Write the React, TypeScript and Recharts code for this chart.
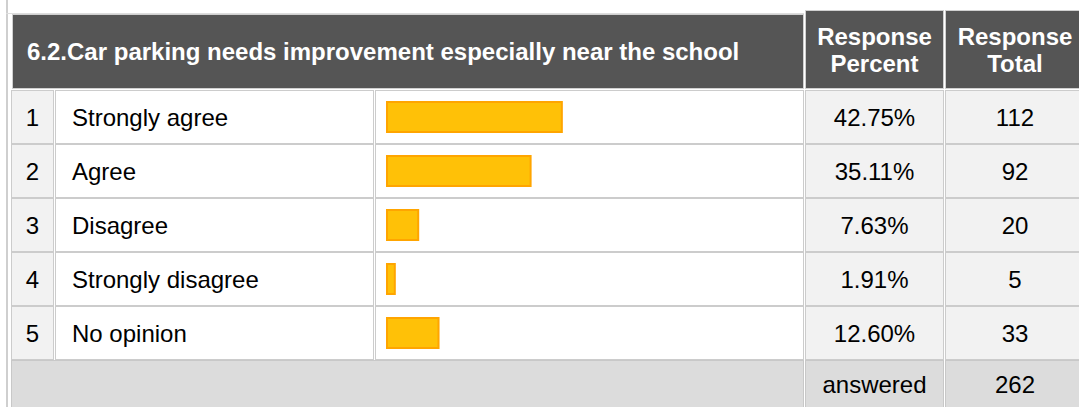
import React from "react";
import { BarChart, Bar, XAxis, YAxis } from "recharts";

const title = "6.2.Car parking needs improvement especially near the school";
const headerPercent = ["Response", "Percent"];
const headerTotal = ["Response", "Total"];
const rowNumbers = ["1", "2", "3", "4", "5"];
const categories = ["Strongly agree", "Agree", "Disagree", "Strongly disagree", "No opinion"];
const percents = [42.75, 35.11, 7.63, 1.91, 12.6];
const totals = [112, 92, 20, 5, 33];
const answeredLabel = "answered";
const answeredTotal = 262;

const data = categories.map((c, i) => ({ name: c, value: percents[i] }));

const FONT = "'Liberation Sans', Arial, sans-serif";
const BORDER = "1px solid #cccccc";
const ROW_TOP = 90;
const ROW_H = 54;
const FS = 24;

const cols = {
  num: { left: 11, width: 43 },
  label: { left: 55, width: 319 },
  bar: { left: 375, width: 429 },
  pct: { left: 805, width: 139 },
  total: { left: 945, width: 140 },
};

function Cell(props: {
  left: number;
  top: number;
  width: number;
  height: number;
  bg: string;
  border?: string;
  align?: "left" | "center";
  padLeft?: number;
  children?: React.ReactNode;
  color?: string;
  bold?: boolean;
  size?: number;
}) {
  const { left, top, width, height, bg, border, align, padLeft, children, color, bold, size } = props;
  return (
    <div
      style={{
        position: "absolute",
        left,
        top,
        width,
        height,
        boxSizing: "border-box",
        background: bg,
        border: border ?? BORDER,
        display: "flex",
        alignItems: "center",
        justifyContent: align === "left" ? "flex-start" : "center",
        paddingLeft: padLeft ?? 0,
        color: color ?? "#000",
        fontWeight: bold ? "bold" : "normal",
        fontSize: size ?? FS,
        fontFamily: FONT,
        textAlign: "center",
        lineHeight: "27px",
        whiteSpace: "nowrap",
      }}
    >
      {children}
    </div>
  );
}

export default function App() {
  return (
    <div
      style={{
        position: "absolute",
        left: 0,
        top: 0,
        width: 1079,
        height: 407,
        overflow: "hidden",
        background: "#ffffff",
        fontFamily: FONT,
      }}
    >
      {/* outer table lines */}
      <div style={{ position: "absolute", left: 6, top: 0, width: 2, height: 407, background: "#cfcfcf" }} />
      <div style={{ position: "absolute", left: 6, top: 13, width: 798, height: 1, background: "#dddddd" }} />

      {/* header */}
      <Cell left={12} top={14} width={792} height={75} bg="#555555" border="1px solid #d0d0d0" align="left" padLeft={14} color="#ffffff" bold>
        {title}
      </Cell>
      <Cell left={cols.pct.left} top={10} width={cols.pct.width} height={79} bg="#555555" border="1px solid #d0d0d0" color="#ffffff" bold>
        <div>
          {headerPercent[0]}
          <br />
          {headerPercent[1]}
        </div>
      </Cell>
      <Cell left={cols.total.left} top={10} width={cols.total.width} height={79} bg="#555555" border="1px solid #d0d0d0" color="#ffffff" bold>
        <div>
          {headerTotal[0]}
          <br />
          {headerTotal[1]}
        </div>
      </Cell>

      {/* rows */}
      {categories.map((c, i) => {
        const top = ROW_TOP + ROW_H * i;
        return (
          <React.Fragment key={c}>
            <Cell left={cols.num.left} top={top} width={cols.num.width} height={ROW_H} bg="#f2f2f2">
              {rowNumbers[i]}
            </Cell>
            <Cell left={cols.label.left} top={top} width={cols.label.width} height={ROW_H} bg="#ffffff" align="left" padLeft={16}>
              {c}
            </Cell>
            <Cell left={cols.bar.left} top={top} width={cols.bar.width} height={ROW_H} bg="#ffffff" />
            <Cell left={cols.pct.left} top={top} width={cols.pct.width} height={ROW_H} bg="#f2f2f2">
              {percents[i].toFixed(2) + "%"}
            </Cell>
            <Cell left={cols.total.left} top={top} width={cols.total.width} height={ROW_H} bg="#f2f2f2">
              {totals[i]}
            </Cell>
          </React.Fragment>
        );
      })}

      {/* footer */}
      <Cell left={cols.num.left} top={ROW_TOP + ROW_H * 5} width={793} height={48} bg="#dcdcdc" border="1px solid #c8c8c8" />
      <Cell left={cols.pct.left} top={ROW_TOP + ROW_H * 5} width={cols.pct.width} height={48} bg="#dcdcdc" border="1px solid #c8c8c8">
        {answeredLabel}
      </Cell>
      <Cell left={cols.total.left} top={ROW_TOP + ROW_H * 5} width={cols.total.width} height={48} bg="#dcdcdc" border="1px solid #c8c8c8">
        {answeredTotal}
      </Cell>

      {/* bars */}
      <div style={{ position: "absolute", left: 377, top: ROW_TOP, width: 427, height: ROW_H * 5 }}>
        <BarChart
          width={427}
          height={ROW_H * 5}
          data={data}
          layout="vertical"
          margin={{ top: 0, right: 8, bottom: 0, left: 10 }}
        >
          <XAxis type="number" domain={[0, 100]} hide />
          <YAxis type="category" dataKey="name" hide />
          <Bar
            dataKey="value"
            fill="#FFC107"
            stroke="#FFA500"
            strokeWidth={2}
            barSize={30}
            isAnimationActive={false}
          />
        </BarChart>
      </div>
    </div>
  );
}
